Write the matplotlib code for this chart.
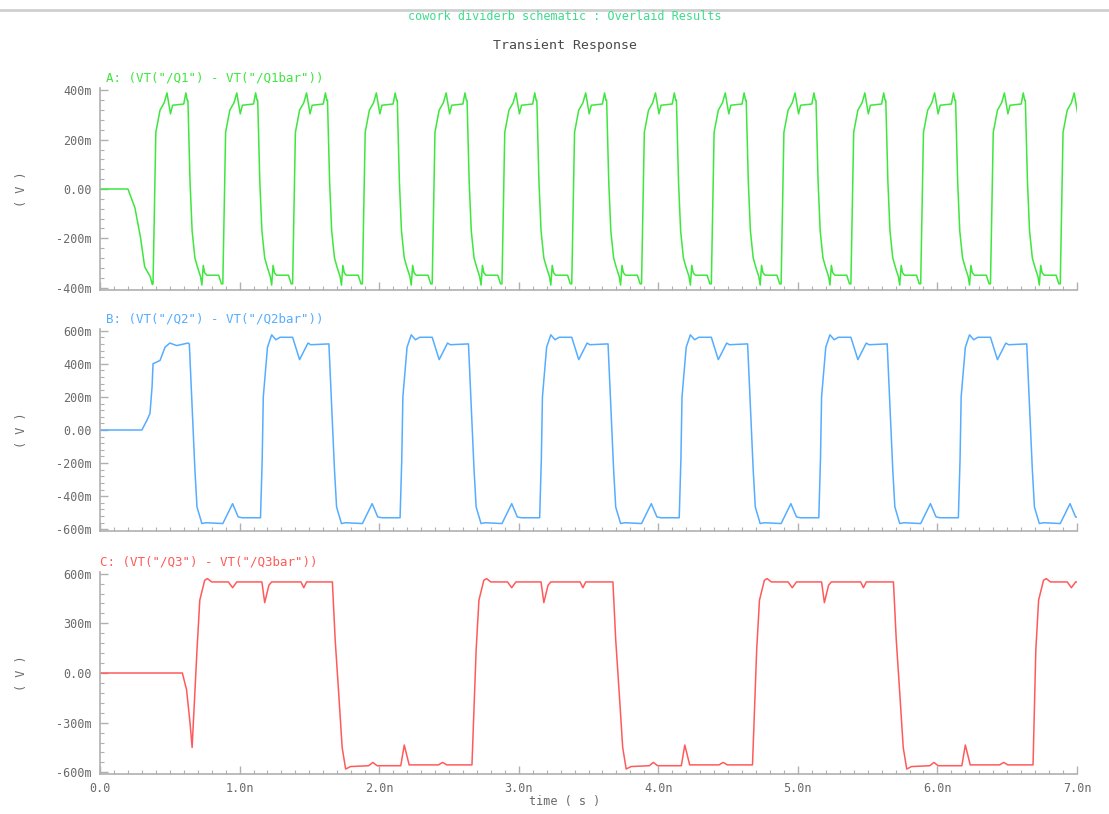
"""Transient response of the divider schematic: three stacked differential outputs."""
import matplotlib
matplotlib.use("Agg")
import matplotlib.pyplot as plt
import numpy as np
from matplotlib.lines import Line2D
from matplotlib.ticker import MultipleLocator

W, H = 1109, 814

# ── data (time in ns, voltage in V) ──────────────────────────────────────
# Q1 / Q1bar  (green, 0.5 ns period)
Q1_HEAD_T = [0.0, 0.20, 0.25, 0.29, 0.32, 0.36, 0.375]
Q1_HEAD_V = [0.0, 0.0, -0.076, -0.196, -0.316, -0.356, -0.388]
Q1_RISES = [0.38, 0.88, 1.38, 1.88, 2.38, 2.88, 3.38, 3.88, 4.38, 4.88,
            5.38, 5.88, 6.38, 6.88]
Q1_FALLS = [0.63, 1.13, 1.63, 2.13, 2.63, 3.13, 3.63, 4.13, 4.63, 5.13,
            5.63, 6.13, 6.63]
Q1_HI_DT = [0.0, 0.02, 0.05, 0.08, 0.10, 0.125, 0.14, 0.22, 0.235, 0.245]
Q1_HI_V = [-0.385, 0.23, 0.32, 0.35, 0.39, 0.305, 0.34, 0.345, 0.39, 0.36]
Q1_LO_DT = [0.0, 0.015, 0.03, 0.05, 0.07, 0.09, 0.10, 0.11, 0.12, 0.135,
            0.22, 0.24]
Q1_LO_V = [0.36, 0.03, -0.17, -0.28, -0.32, -0.355, -0.39, -0.31, -0.34,
           -0.35, -0.35, -0.385]

# Q2 / Q2bar  (blue, 1 ns period)
Q2_HEAD_T = [0.0, 0.30, 0.337, 0.358, 0.373, 0.38, 0.43, 0.466, 0.50,
             0.55, 0.63]
Q2_HEAD_V = [0.0, 0.0, 0.06, 0.10, 0.26, 0.40, 0.42, 0.50, 0.525, 0.51,
             0.525]
Q2_RISES = [1.15, 2.15, 3.15, 4.15, 5.15, 6.15]
Q2_FALLS = [0.64, 1.64, 2.64, 3.64, 4.64, 5.64, 6.64]
Q2_HI_DT = [0.0, 0.012, 0.02, 0.05, 0.08, 0.11, 0.14, 0.23, 0.28, 0.34,
            0.36, 0.49]
Q2_HI_V = [-0.53, -0.18, 0.20, 0.50, 0.575, 0.545, 0.56, 0.56, 0.425,
           0.525, 0.515, 0.52]
Q2_LO_DT = [0.0, 0.02, 0.04, 0.055, 0.09, 0.12, 0.24, 0.31, 0.35, 0.38,
            0.50]
Q2_LO_V = [0.52, 0.14, -0.24, -0.465, -0.565, -0.56, -0.565, -0.445,
           -0.525, -0.53, -0.53]

# Q3 / Q3bar  (red, 2 ns period)
Q3_HEAD_T = [0.0, 0.59, 0.62, 0.645, 0.66]
Q3_HEAD_V = [0.0, 0.0, -0.10, -0.30, -0.45]
Q3_RISES = [0.67, 2.67, 4.68, 6.68]
Q3_FALLS = [1.665, 3.675, 5.685]
Q3_HI_DT = [0.025, 0.045, 0.08, 0.10, 0.13, 0.25, 0.28, 0.31, 0.49, 0.51,
            0.54, 0.56, 0.77, 0.79, 0.81, 0.995]
Q3_HI_V = [0.14, 0.44, 0.56, 0.57, 0.55, 0.55, 0.515, 0.55, 0.55, 0.425,
           0.53, 0.55, 0.55, 0.515, 0.55, 0.55]
Q3_LO_DT = [0.0, 0.02, 0.045, 0.07, 0.095, 0.13, 0.26, 0.29, 0.32, 0.49,
            0.515, 0.55, 0.76, 0.79, 0.82, 1.0]
Q3_LO_V = [0.55, 0.20, -0.12, -0.45, -0.58, -0.565, -0.56, -0.54, -0.56,
           -0.56, -0.435, -0.555, -0.555, -0.54, -0.555, -0.555]

X_TICKS = [0, 1, 2, 3, 4, 5, 6, 7]
X_LABELS = ["0.0", "1.0n", "2.0n", "3.0n", "4.0n", "5.0n", "6.0n", "7.0n"]

P1_TICKS = [-0.4, -0.2, 0.0, 0.2, 0.4]
P1_LABELS = ["-400m", "-200m", "0.00", "200m", "400m"]
P2_TICKS = [-0.6, -0.4, -0.2, 0.0, 0.2, 0.4, 0.6]
P2_LABELS = ["-600m", "-400m", "-200m", "0.00", "200m", "400m", "600m"]
P3_TICKS = [-0.6, -0.3, 0.0, 0.3, 0.6]
P3_LABELS = ["-600m", "-300m", "0.00", "300m", "600m"]

LEGENDS = ['A: (VT("/Q1") - VT("/Q1bar"))',
           'B: (VT("/Q2") - VT("/Q2bar"))',
           'C: (VT("/Q3") - VT("/Q3bar"))']

MONO = "DejaVu Sans Mono"
AXIS_GRAY = "#b0b0b0"
TEXT_GRAY = "#6a6a6a"


def _assemble(head_t, head_v, rises, falls, hi_dt, hi_v, lo_dt, lo_v):
    t = list(head_t)
    v = list(head_v)
    for r in rises:
        t += [r + d for d in hi_dt]
        v += list(hi_v)
    for f in falls:
        t += [f + d for d in lo_dt]
        v += list(lo_v)
    order = np.argsort(t, kind="stable")
    return np.asarray(t)[order], np.asarray(v)[order]


def _px_axes(fig, top, bottom, left=100, right=1077):
    return fig.add_axes([left / W, 1 - bottom / H,
                         (right - left) / W, (bottom - top) / H])


def _style(ax, yticks, ylabels, ylim, yminor, show_x):
    ax.set_xlim(0, 7)
    ax.set_ylim(*ylim)
    for s in ("top", "right"):
        ax.spines[s].set_visible(False)
    for s in ("left", "bottom"):
        ax.spines[s].set_color(AXIS_GRAY)
        ax.spines[s].set_linewidth(1.2)
    ax.set_xticks(X_TICKS)
    ax.set_xticklabels(X_LABELS if show_x else [])
    ax.xaxis.set_minor_locator(MultipleLocator(0.1))
    ax.set_yticks(yticks)
    ax.set_yticklabels(ylabels)
    ax.yaxis.set_minor_locator(MultipleLocator(yminor))
    ax.tick_params(which="both", direction="in", color=AXIS_GRAY,
                   labelcolor=TEXT_GRAY, labelsize=8.5, pad=6)
    ax.tick_params(which="major", length=6, width=1.0)
    ax.tick_params(which="minor", length=3, width=0.8)
    for lab in ax.get_xticklabels() + ax.get_yticklabels():
        lab.set_family(MONO)


fig = plt.figure(figsize=(W / 100, H / 100), dpi=100)
fig.patch.set_facecolor("white")

fig.add_artist(Line2D([0, 1], [1 - 10 / H, 1 - 10 / H],
                      transform=fig.transFigure, color="#cfcfcf", lw=2))
fig.text(565 / W, 1 - 17 / H, "cowork dividerb schematic : Overlaid Results",
         ha="center", va="center", color="#3ddc8c", fontsize=8.5,
         family=MONO)
fig.text(565 / W, 1 - 46 / H, "Transient Response", ha="center",
         va="center", color="#4a4a4a", fontsize=9.5, family=MONO)

panels = [
    dict(top=88, bottom=290, ylim=(-0.41, 0.41), ticks=P1_TICKS,
         labels=P1_LABELS, minor=0.04, color="#3ee63e",
         data=_assemble(Q1_HEAD_T, Q1_HEAD_V, Q1_RISES, Q1_FALLS,
                        Q1_HI_DT, Q1_HI_V, Q1_LO_DT, Q1_LO_V), lx=0.006),
    dict(top=329, bottom=531, ylim=(-0.61, 0.61), ticks=P2_TICKS,
         labels=P2_LABELS, minor=0.04, color="#55adff",
         data=_assemble(Q2_HEAD_T, Q2_HEAD_V, Q2_RISES, Q2_FALLS,
                        Q2_HI_DT, Q2_HI_V, Q2_LO_DT, Q2_LO_V), lx=0.006),
    dict(top=572, bottom=774, ylim=(-0.61, 0.61), ticks=P3_TICKS,
         labels=P3_LABELS, minor=0.06, color="#ff5a5a",
         data=_assemble(Q3_HEAD_T, Q3_HEAD_V, Q3_RISES, Q3_FALLS,
                        Q3_HI_DT, Q3_HI_V, Q3_LO_DT, Q3_LO_V), lx=0.0),
]

for k, p in enumerate(panels):
    ax = _px_axes(fig, p["top"], p["bottom"])
    t, v = p["data"]
    ax.plot(t, v, color=p["color"], lw=1.1)
    _style(ax, p["ticks"], p["labels"], p["ylim"], p["minor"],
           show_x=(k == len(panels) - 1))
    ax.text(p["lx"], 1.05, LEGENDS[k], transform=ax.transAxes,
            color=p["color"], fontsize=9, family=MONO, va="center",
            ha="left")
    mid = 1 - (p["top"] + p["bottom"]) / 2 / H
    fig.text(22 / W, mid, "( V )", rotation=90, ha="center", va="center",
             color=TEXT_GRAY, fontsize=8.5, family=MONO)

fig.text(565 / W, 1 - 801 / H, "time ( s )", ha="center", va="center",
         color=TEXT_GRAY, fontsize=8.5, family=MONO)

fig.savefig("out.png", dpi=100)
